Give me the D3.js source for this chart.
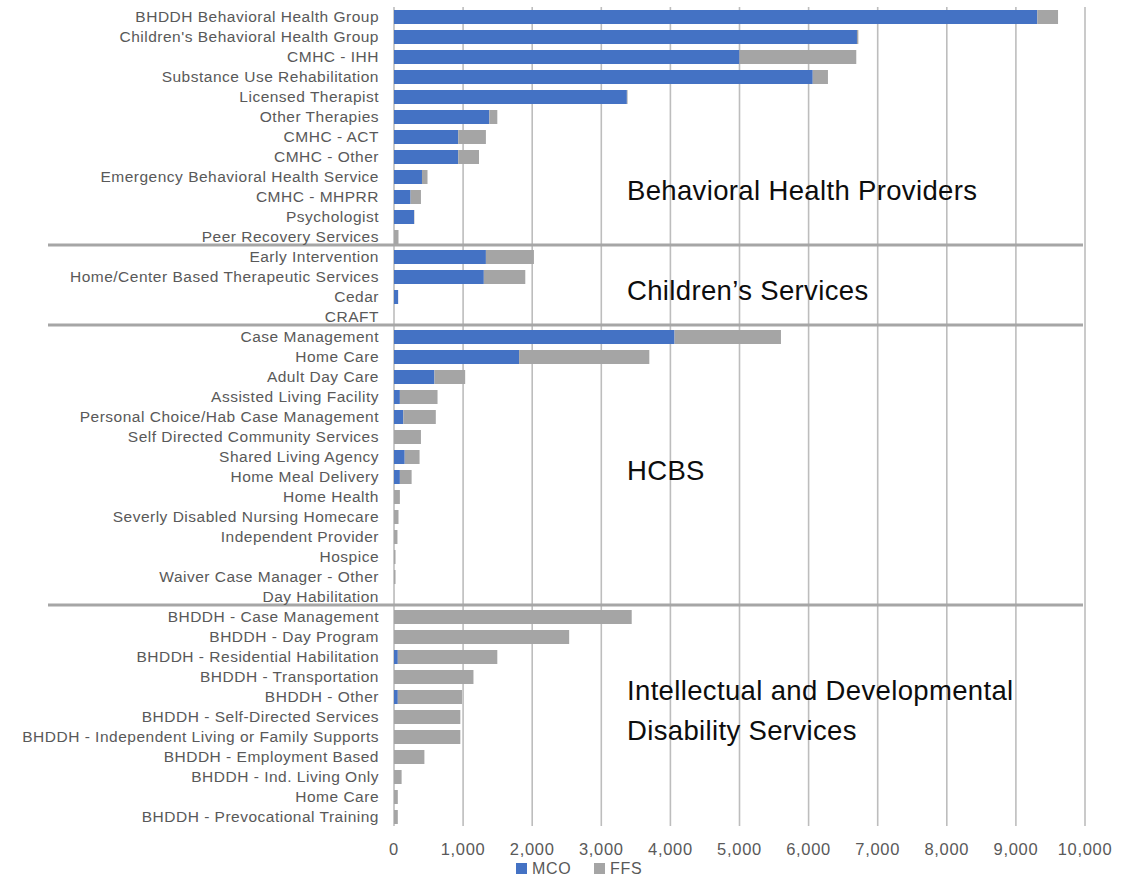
<!DOCTYPE html>
<html>
<head>
<meta charset="utf-8">
<script src="https://cdn.jsdelivr.net/npm/d3@7/dist/d3.min.js"></script>
<style>
  html, body { margin: 0; padding: 0; background: #fff; }
  svg { display: block; }
</style>
</head>
<body>
<svg id="chart" width="1139" height="876"></svg>
<script>
// Service categories, top to bottom
const categories = [
  "BHDDH Behavioral Health Group",
  "Children's Behavioral Health Group",
  "CMHC - IHH",
  "Substance Use Rehabilitation",
  "Licensed Therapist",
  "Other Therapies",
  "CMHC - ACT",
  "CMHC - Other",
  "Emergency Behavioral Health Service",
  "CMHC - MHPRR",
  "Psychologist",
  "Peer Recovery Services",
  "Early Intervention",
  "Home/Center Based Therapeutic Services",
  "Cedar",
  "CRAFT",
  "Case Management",
  "Home Care",
  "Adult Day Care",
  "Assisted Living Facility",
  "Personal Choice/Hab Case Management",
  "Self Directed Community Services",
  "Shared Living Agency",
  "Home Meal Delivery",
  "Home Health",
  "Severly Disabled Nursing Homecare",
  "Independent Provider",
  "Hospice",
  "Waiver Case Manager - Other",
  "Day Habilitation",
  "BHDDH - Case Management",
  "BHDDH - Day Program",
  "BHDDH - Residential Habilitation",
  "BHDDH - Transportation",
  "BHDDH - Other",
  "BHDDH - Self-Directed Services",
  "BHDDH - Independent Living or Family Supports",
  "BHDDH - Employment Based",
  "BHDDH - Ind. Living Only",
  "Home Care ",
  "BHDDH - Prevocational Training"
];

// Managed care (MCO) counts per category
const mcoValues = [
  9310, 6700, 5000, 6060, 3370, 1380, 930, 930, 405, 240, 290, 0,
  1330, 1300, 60, 0,
  4060, 1810, 585, 85, 135, 0, 155, 85, 0, 0, 0, 0, 0, 0,
  0, 0, 55, 0, 55, 0, 0, 0, 0, 0, 0
];

// Fee-for-service (FFS) counts per category
const ffsValues = [
  300, 20, 1690, 220, 10, 115, 400, 300, 80, 150, 5, 65,
  695, 600, 0, 0,
  1540, 1885, 445, 545, 470, 390, 215, 170, 85, 65, 50, 22, 22, 2,
  3440, 2535, 1440, 1150, 930, 960, 960, 440, 110, 55, 55
];

const seriesNames = ["MCO", "FFS"];
const seriesColors = ["#4472c4", "#a5a5a5"];

// Axis ticks
const tickValues = [0, 1000, 2000, 3000, 4000, 5000, 6000, 7000, 8000, 9000, 10000];

// Section headings: text lines and the row each line sits on
const sectionTitles = [
  { lines: ["Behavioral Health Providers"], rows: ["CMHC - MHPRR"] },
  { lines: ["Children\u2019s Services"], rows: ["Cedar"] },
  { lines: ["HCBS"], rows: ["Home Meal Delivery"] },
  { lines: ["Intellectual and Developmental", "Disability Services"],
    rows: ["BHDDH - Other", "BHDDH - Independent Living or Family Supports"] }
];

// First category of each section after the first (divider drawn above it)
const sectionStarts = ["Early Intervention", "Case Management", "BHDDH - Case Management"];

// ---- layout ----
const svg = d3.select("#chart");
const plotLeft = 394, plotRight = 1085, plotTop = 7, plotBottom = 827;
const font = "'Liberation Sans', Arial, sans-serif";

const x = d3.scaleLinear().domain([0, 10000]).range([plotLeft, plotRight]);
const y = d3.scaleBand().domain(categories).range([plotTop, plotBottom]).paddingInner(0.3).paddingOuter(0.15);

const rows = categories.map((c, i) => ({ category: c, MCO: mcoValues[i], FFS: ffsValues[i] }));
const stacked = d3.stack().keys(seriesNames)(rows);

// vertical gridlines
svg.append("g")
  .selectAll("line")
  .data(tickValues)
  .join("line")
  .attr("x1", d => x(d)).attr("x2", d => x(d))
  .attr("y1", plotTop).attr("y2", plotBottom - 1)
  .attr("stroke", "#bdbdbd")
  .attr("stroke-width", 1.6);

// stacked bars
svg.append("g")
  .selectAll("g")
  .data(stacked)
  .join("g")
  .attr("fill", (d, i) => seriesColors[i])
  .selectAll("rect")
  .data(d => d)
  .join("rect")
  .attr("x", d => x(d[0]))
  .attr("y", d => y(d.data.category))
  .attr("width", d => Math.max(0, x(d[1]) - x(d[0])))
  .attr("height", y.bandwidth());

// section dividers
const step = y.step();
svg.append("g")
  .selectAll("line")
  .data(sectionStarts)
  .join("line")
  .attr("x1", 48).attr("x2", plotRight - 2)
  .attr("y1", d => y(d) - step * 0.15 - 2)
  .attr("y2", d => y(d) - step * 0.15 - 2)
  .attr("stroke", "#a6a6a6")
  .attr("stroke-width", 3);

// category labels
svg.append("g")
  .selectAll("text")
  .data(categories)
  .join("text")
  .attr("x", 379)
  .attr("y", d => y(d) + y.bandwidth() / 2)
  .attr("dy", "0.35em")
  .attr("text-anchor", "end")
  .attr("font-family", font)
  .attr("font-size", "15.5px")
  .attr("letter-spacing", "0.5px")
  .attr("fill", "#595959")
  .text(d => d.trim());

// x axis tick labels
const fmt = d3.format(",");
svg.append("g")
  .selectAll("text")
  .data(tickValues)
  .join("text")
  .attr("x", d => x(d))
  .attr("y", 854.5)
  .attr("text-anchor", "middle")
  .attr("font-family", font)
  .attr("font-size", "16.5px")
  .attr("letter-spacing", "0.7px")
  .attr("fill", "#595959")
  .text(d => fmt(d));

// section headings
sectionTitles.forEach(t => {
  t.lines.forEach((line, i) => {
    svg.append("text")
      .attr("x", 627)
      .attr("y", y(t.rows[i]) + y.bandwidth() / 2 + 2.5)
      .attr("font-family", font)
      .attr("font-size", "27.5px")
      .attr("letter-spacing", "0.35px")
      .attr("fill", "#0d0d0d")
      .text(line);
  });
});

// legend
const legend = svg.append("g").attr("transform", "translate(516,863)");
const legendOffsets = [0, 78];
seriesNames.forEach((name, i) => {
  const g = legend.append("g").attr("transform", `translate(${legendOffsets[i]},0)`);
  g.append("rect").attr("width", 11).attr("height", 11).attr("fill", seriesColors[i]);
  g.append("text")
    .attr("x", 16).attr("y", 11)
    .attr("font-family", font)
    .attr("font-size", "16px")
    .attr("letter-spacing", "0.7px")
    .attr("fill", "#595959")
    .text(name);
});
</script>
</body>
</html>
